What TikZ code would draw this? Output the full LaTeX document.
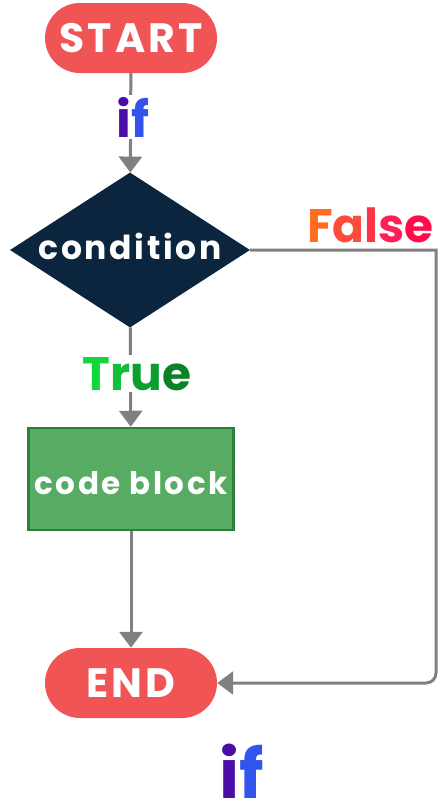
\documentclass[tikz,border=0pt]{standalone}
\usepackage{fontspec}
\usetikzlibrary{shapes.geometric,arrows.meta}
\newfontfamily\boxfont{Poppins}[LetterSpace=8]
\newfontfamily\labfont{Poppins}

\definecolor{termred}{HTML}{F05454}
\definecolor{decnavy}{HTML}{0A253D}
\definecolor{codefill}{HTML}{57AB63}
\definecolor{codeedge}{HTML}{2F7F38}
\definecolor{wire}{HTML}{808080}
% letter colours for the gradient labels
\definecolor{ifA}{HTML}{4A0DA8}
\definecolor{ifB}{HTML}{3254EC}
\definecolor{fA}{HTML}{FF6E1E}
\definecolor{fB}{HTML}{FF4A3C}
\definecolor{fC}{HTML}{FF3449}
\definecolor{fD}{HTML}{FF1E55}
\definecolor{fE}{HTML}{FF0C4A}
\definecolor{tA}{HTML}{12D63E}
\definecolor{tB}{HTML}{0FC038}
\definecolor{tC}{HTML}{0BA02E}
\definecolor{tD}{HTML}{0A8226}

\tikzset{
  terminal/.style={rectangle, rounded corners=35pt, fill=termred,
    minimum width=172pt, minimum height=70pt, inner sep=0pt,
    text=white, font=\boxfont\bfseries\fontsize{41}{43}\selectfont},
  decision/.style={diamond, aspect=1.55, fill=decnavy,
    minimum width=240pt, minimum height=155pt, inner sep=0pt,
    text=white, font=\boxfont\bfseries\fontsize{33}{35}\selectfont},
  process/.style={rectangle, fill=codefill, draw=codeedge, line width=2.5pt,
    minimum width=205pt, minimum height=102pt, inner sep=0pt,
    text=white, font=\boxfont\bfseries\fontsize{31}{33}\selectfont},
  conn/.style={draw=wire, line width=3pt,
    -{Triangle[width=23pt,length=16pt]}},
  flowlabel/.style={fill=white, inner sep=2pt, anchor=base,
    font=\labfont\bfseries\fontsize{47}{49}\selectfont},
}

\begin{document}
\begin{tikzpicture}[x=1pt, y=-1pt]
  \useasboundingbox (0,0) rectangle (439,811);

  % flowchart boxes (ink nudged, box size kept)
  \node[terminal] (start) at (131,38) {START};
  \node[decision] (cond) at (130,250)
    {\raisebox{4pt}[\height][\depth]{condition}};
  \node[process] (code) at (131,479)
    {\raisebox{-4pt}[\height][\depth]{code block}};
  \node[terminal] (stop) at (131,683) {END};
  \coordinate (turn) at (436,250);

  % connectors
  \draw[conn] (start) -- (cond);
  \draw[conn] (cond) -- (code);
  \draw[conn] (code) -- (stop);
  \draw[conn] (cond.east) -- (turn) [rounded corners=10pt] |- (stop.east);

  % labels on the branches
  \node[flowlabel, font=\labfont\bfseries\fontsize{50}{52}\selectfont]
    (iflbl) at (133,137) {{\color{ifA}i}{\color{ifB}f}};
  \node[flowlabel] (truelbl) at (137,390)
    {{\color{tA}T}{\color{tB}r}{\color{tC}u}{\color{tD}e}};
  \node[flowlabel, fill=none, anchor=base east] (falselbl) at (436,242)
    {{\color{fA}F}{\color{fB}a}{\color{fC}l}{\color{fD}s}{\color{fE}e}};

  % caption
  \node[font=\labfont\bfseries\fontsize{68}{70}\selectfont, inner sep=0pt,
    anchor=base] (caption) at (242,798) {{\color{ifA}i}{\color{ifB}f}};
\end{tikzpicture}
\end{document}
